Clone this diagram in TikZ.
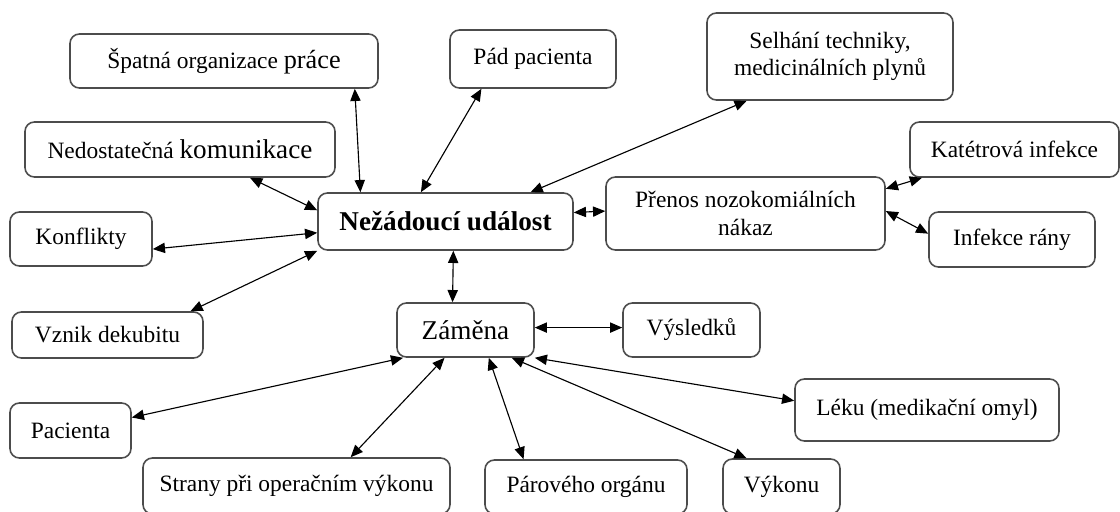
\documentclass[tikz,border=0pt]{standalone}
\usepackage{fontspec}
\setmainfont{Liberation Serif}
\usepackage{tikz}
\usetikzlibrary{arrows.meta}

\begin{document}
\begin{tikzpicture}[x=0.01875cm,y=-0.01875cm,<->,>={Triangle[length=6.5pt,width=5.5pt]},semithick,
                    box/.style={draw=black!70,line width=0.85pt,rounded corners=5pt,align=center,
                                inner sep=2pt,font=\fontsize{12.5}{14.5}\selectfont},
                    wh/.style 2 args={minimum width=#1*0.01875cm,minimum height=#2*0.01875cm}]

  \useasboundingbox (0,0) rectangle (1120,511);

  \node[box,wh={255}{57},font=\fontsize{14.5}{16}\selectfont\bfseries] (nezad) at (445.5,221.5) {Nežádoucí událost};
  \node[box,wh={308}{54}] (spatna) at (224,61) {Špatná organizace {\fontsize{14}{14}\selectfont práce}};
  \node[box,wh={166}{58}] (pad) at (533,59) {Pád pacienta};
  \node[box,wh={246}{87}] (selhani) at (830,56.5) {Selhání techniky,\\ medicinálních plynů};
  \node[box,wh={310}{55}] (nedost) at (180,149.5) {Nedostatečná {\fontsize{14.5}{14}\selectfont komunikace}};
  \node[box,wh={142}{54}] (konflikty) at (81,239) {Konflikty};
  \node[box,wh={191}{46}] (vznik) at (107.5,335) {Vznik dekubitu};
  \node[box,wh={279}{73}] (prenos) at (745.5,213.5) {Přenos nozokomiálních\\ nákaz};
  \node[box,wh={209}{55}] (katetr) at (1014.5,149.5) {Katétrová infekce};
  \node[box,wh={166}{55}] (infekce) at (1012,239.5) {Infekce rány};

  %zamena and what can be swapped
  \node[box,wh={137}{54},font=\fontsize{14.5}{16}\selectfont] (zamena) at (465.5,330) {Záměna};
  \node[box,wh={137}{54}] (vysledku) at (691.5,330) {Výsledků};
  \node[box,wh={264}{62}] (leku) at (927,410) {Léku (medikační omyl)};
  \node[box,wh={121}{55}] (pacienta) at (70.5,430.5) {Pacienta};
  \node[box,wh={307}{56}] (strany) at (296.5,486) {Strany při operačním výkonu};
  \node[box,wh={202}{54}] (parovy) at (586,487) {Párového orgánu};
  \node[box,wh={117}{55}] (vykonu) at (781.5,486.5) {Výkonu};

  \path
    (nezad.161) edge (spatna.348)
    (nezad.130) edge (pad.210)
    (nezad.19) edge (selhani.208)
    (nezad.175) edge (nedost.338)
    (nezad.185) edge (konflikty.352)
    (nezad.south west) edge (vznik.16)
    (nezad.4) edge (prenos.179)
    (nezad.285) edge (zamena.115)
    (prenos.10) edge (katetr.197)
    (prenos.1) edge (infekce.176)
    (zamena.2) edge (vysledku.178)
    (zamena.south east) edge (leku.176)
    (zamena.329) edge (vykonu.141)
    (zamena.310) edge (parovy.156)
    (zamena.233) edge (strany.28)
    (zamena.204) edge (pacienta.12);
\end{tikzpicture}
\end{document}
